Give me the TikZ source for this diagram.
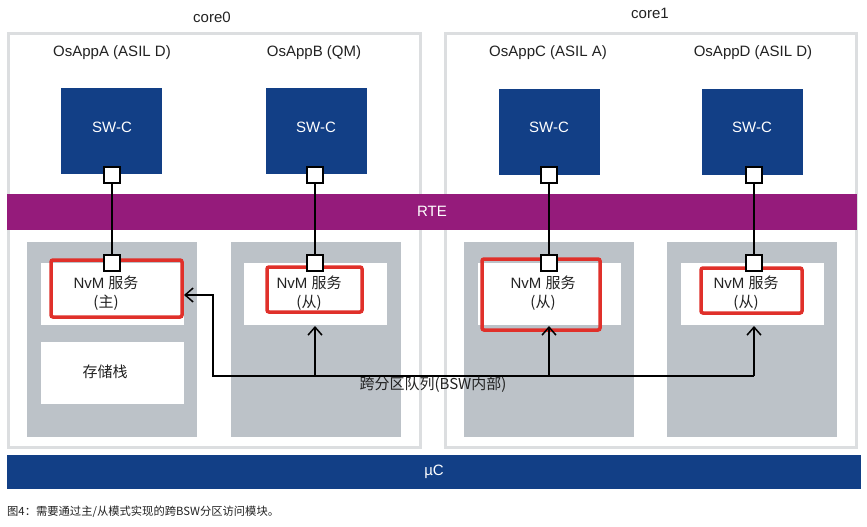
\documentclass[tikz,border=0pt]{standalone}
\usepackage{fontspec}
\setmainfont{Liberation Sans}
\newfontfamily\cjk{Noto Sans CJK SC}
\usetikzlibrary{arrows.meta}
\definecolor{swblue}{HTML}{123F86}
\definecolor{rtepurple}{HTML}{951B7B}
\definecolor{bswgray}{HTML}{BCC2C8}
\definecolor{coreline}{HTML}{DCDEE0}
\definecolor{nvmred}{HTML}{E0302A}
\definecolor{txt}{HTML}{222222}
\tikzset{
  corebox/.style={draw=coreline,line width=3pt,fill=white,minimum width=#1,minimum height=413pt,inner sep=0pt},
  bar/.style={fill=#1,minimum height=36pt,inner sep=0pt,text=white,font=\fontsize{15}{17}\selectfont},
  swc/.style={fill=swblue,minimum width=101pt,minimum height=86pt,inner sep=0pt},
  swtext/.style={text=white,font=\fontsize{15}{17}\selectfont},
  port/.style={draw=black,line width=1.1pt,fill=white,minimum size=16pt,inner sep=0pt},
  graybox/.style={fill=bswgray,minimum width=170pt,minimum height=195pt,inner sep=0pt},
  whitebox/.style={fill=white,minimum width=143pt,minimum height=62pt,inner sep=0pt},
  redbox/.style={draw=nvmred,line width=3.5pt,rounded corners=2pt,inner sep=0pt},
  lbl/.style={text=txt,font=\fontsize{15}{17}\selectfont},
  nvmtext/.style={text=txt,align=center,font=\fontsize{15}{19}\selectfont},
  link/.style={draw=black,line width=1.3pt},
  arr/.style={draw=black,line width=1.5pt,-{Straight Barb[length=8pt,width=14pt]}},
}
\begin{document}
\begin{tikzpicture}[x=1pt,y=-1pt]
\useasboundingbox (0,0) rectangle (867,527);
% cores
\node[corebox=412pt] (core0) at (214,240.5) {};
\node[corebox=411pt] (core1) at (650.5,240.5) {};
\node[lbl] (core0l) at (212,17) {core0};
\node[lbl] (core1l) at (650,13) {core1};
% app labels
\node[lbl] (appA) at (112,53) {OsAppA (ASIL D)};
\node[lbl] (appB) at (314,53) {OsAppB (QM)};
\node[lbl] (appC) at (548,53) {OsAppC (ASIL A)};
\node[lbl] (appD) at (753,53) {OsAppD (ASIL D)};
% SW-C
\node[swc] (swA) at (111.5,131) {};
\node[swc] (swB) at (316.5,131) {};
\node[swc] (swC) at (549.5,131.5) {};
\node[swc] (swD) at (752.5,131.5) {};
\node[swtext] (swAt) at (112,127) {SW-C};
\node[swtext] (swBt) at (316,127) {SW-C};
\node[swtext] (swCt) at (549,127) {SW-C};
\node[swtext] (swDt) at (752,127) {SW-C};
% RTE
\node[bar=rtepurple,minimum width=850pt] (rte) at (432,211.5) {RTE};
% BSW gray areas
\node[graybox] (gA) at (112,339.5) {};
\node[graybox] (gB) at (316,339.5) {};
\node[graybox] (gC) at (549,339.5) {};
\node[graybox] (gD) at (752,339.5) {};
\node[whitebox] (wA) at (112.5,294) {};
\node[whitebox] (wB) at (315.5,294) {};
\node[whitebox] (wC) at (549.5,294) {};
\node[whitebox] (wD) at (752.5,294) {};
\node[whitebox] (mem) at (112.5,373) {};
\node[lbl] (memt) at (105,372) {\cjk 存储栈};
% red boxes
\node[redbox,minimum width=131pt,minimum height=57pt] (rA) at (116.5,288.5) {};
\node[redbox,minimum width=95pt,minimum height=45pt] (rB) at (314.5,289.5) {};
\node[redbox,minimum width=118pt,minimum height=71pt] (rC) at (541,294.5) {};
\node[redbox,minimum width=101pt,minimum height=45pt] (rD) at (751.5,290.5) {};
\node[nvmtext] (tA) at (106,293) {NvM {\cjk 服务}\\{\cjk (主)}};
\node[nvmtext] (tB) at (309,293) {NvM {\cjk 服务}\\{\cjk (从)}};
\node[nvmtext] (tC) at (543,293) {NvM {\cjk 服务}\\{\cjk (从)}};
\node[nvmtext] (tD) at (746,293) {NvM {\cjk 服务}\\{\cjk (从)}};
% ports
\node[port] (puA) at (112,175) {};
\node[port] (puB) at (315,175) {};
\node[port] (puC) at (549,175) {};
\node[port] (puD) at (754,175) {};
\node[port] (plA) at (112,263) {};
\node[port] (plB) at (315,263) {};
\node[port] (plC) at (549,263) {};
\node[port] (plD) at (754,263) {};
\draw[link] (puA) -- (plA);
\draw[link] (puB) -- (plB);
\draw[link] (puC) -- (plC);
\draw[link] (puD) -- (plD);
% inter-partition queue
\coordinate (bL) at (213,376);
\coordinate (bR) at (754,376);
\coordinate (aA) at (184,295);
\draw[arr] (bR) -- (bL) -- (bL |- aA) -- (aA);
\draw[arr] (plB |- bL) -- (315,326);
\draw[arr] (plC |- bL) -- (549,326);
\draw[arr] (bR) -- (754,326);
\node[lbl] (queue) at (433,385) {\cjk 跨分区队列(BSW内部)};
% uC
\node[bar=swblue,minimum width=854pt,minimum height=34pt] (uc) at (434,472) {µC};
% caption
\node[anchor=west,text=txt,font=\cjk\fontsize{11.3}{13}\selectfont,inner sep=0pt] (cap) at (7,512) {图4：需要通过主/从模式实现的跨BSW分区访问模块。};
\end{tikzpicture}
\end{document}
